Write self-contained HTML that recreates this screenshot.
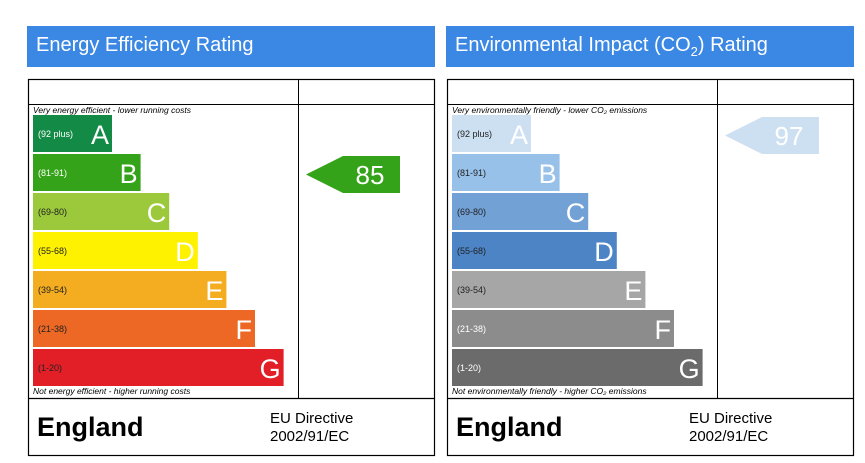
<!DOCTYPE html>
<html><head><meta charset="utf-8"><style>
body{margin:0;width:865px;height:463px;background:#fff;overflow:hidden;font-family:"Liberation Sans",Arial,sans-serif}
svg{display:block}
</style></head><body>
<svg id="c" width="865" height="463" xmlns="http://www.w3.org/2000/svg"></svg>
<script>
const bandLetters=["A","B","C","D","E","F","G"];
const bandRanges=["(92 plus)","(81-91)","(69-80)","(55-68)","(39-54)","(21-38)","(1-20)"];
const bandMins=[92,81,69,55,39,21,1];
const energyColors=["#138a46","#35a319","#9cc93c","#fff200","#f4ad20","#ec6824","#e21f26"];
const envColors=["#cde0f2","#98c1ea","#72a1d6","#4c84c6","#a6a6a6","#8c8c8c","#6b6b6b"];
const energyLabelDark=[false,false,true,true,true,true,true];
const envLabelDark=[true,true,true,true,true,false,false];
const energyRating=85;
const envRating=97;
const NS="http://www.w3.org/2000/svg";
const svg=document.getElementById('c');
function mk(tag,attrs,parent,text){const e=document.createElementNS(NS,tag);for(const k in attrs)e.setAttribute(k,attrs[k]);if(text!=null)e.textContent=text;(parent||svg).appendChild(e);return e;}
function bandOf(v){for(let i=0;i<bandMins.length;i++)if(v>=bandMins[i])return i;return 6;}
function bandColorFor(v,c){return c[bandOf(v)];}
function yBand(i){return 115+i*39;}
function panel(x0,key,title,sub,colors,dark,rating,topNote,botNote,arrowColor){
  const g=mk('g',{});
  
  
  const h=mk('rect',{x:x0-1,y:26,width:408,height:41,fill:'#3a88e4'},g);
  
  
  const t=mk('text',{x:x0+8,y:51,fill:'#fff','font-size':20},g);
  
  
  t.textContent=title;
  if(sub){mk('tspan',{'font-size':13,dy:5},t,'2');mk('tspan',{dy:-5},t,') Rating');}
  mk('rect',{x:x0+0.5,y:79.5,width:406,height:376,fill:'none',stroke:'#000','stroke-width':1.2},g);
  mk('line',{x1:x0,x2:x0+407,y1:104.5,y2:104.5,stroke:'#000','stroke-width':1},g);
  mk('line',{x1:x0+270.5,x2:x0+270.5,y1:79,y2:398,stroke:'#000','stroke-width':1},g);
  mk('line',{x1:x0,x2:x0+407,y1:398.5,y2:398.5,stroke:'#000','stroke-width':1.2},g);
  const n1=mk('text',{x:x0+5,y:113,'font-size':8.5,'font-style':'italic',fill:'#000'},g,topNote);
  
  
  const n2=mk('text',{x:x0+5,y:394,'font-size':8.5,'font-style':'italic',fill:'#000'},g,botNote);
  
  
  for(let i=0;i<7;i++){
    const w=79+i*28.6;const y=yBand(i);
    const b=mk('rect',{x:x0+5,y:y,width:w,height:37,fill:colors[i]},g);
    
    
    mk('text',{x:x0+10,y:y+22,'font-size':9,fill:dark[i]?'#222':'#fff'},g,bandRanges[i]);
    mk('text',{x:x0+5+w-3,y:y+29,'font-size':27,fill:'#fff','text-anchor':'end'},g,bandLetters[i]);
  }
  const bi=bandOf(rating);const ay=yBand(bi)+2;const ax=x0+278;
  const a=mk('polygon',{points:`${ax},${ay+18.5} ${ax+37},${ay} ${ax+94},${ay} ${ax+94},${ay+37} ${ax+37},${ay+37}`,fill:arrowColor},g);
  
  
  const at=mk('text',{x:ax+64,y:ay+28,'font-size':26,fill:'#fff','text-anchor':'middle'},g,String(rating));
  
  
  const en=mk('text',{x:x0+9,y:436,'font-size':27,'font-weight':'bold',fill:'#000'},g,'England');
  
  
  const d=mk('text',{x:x0+242,y:423,'font-size':15,fill:'#000'},g,'EU Directive');
  
  
  mk('text',{x:x0+242,y:441,'font-size':15,fill:'#000'},g,'2002/91/EC');
}
panel(28,'energy','Energy Efficiency Rating',false,energyColors,energyLabelDark,energyRating,'Very energy efficient - lower running costs','Not energy efficient - higher running costs',bandColorFor(energyRating,energyColors));
panel(447,'environment','Environmental Impact (CO',true,envColors,envLabelDark,envRating,'Very environmentally friendly - lower CO\u2082 emissions','Not environmentally friendly - higher CO\u2082 emissions',bandColorFor(envRating,envColors));
</script>
</body></html>
